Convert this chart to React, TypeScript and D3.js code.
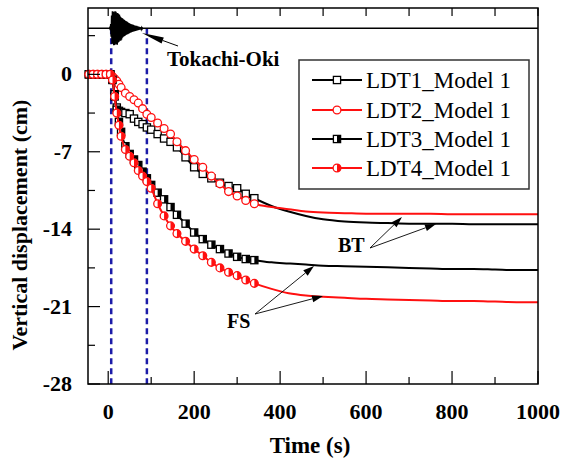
import React from "react";
import * as d3 from "d3";

// ---- data ----
const times = [-45, -35, -25, -15, -5, 5, 10, 15, 20, 25, 30, 40, 50, 60, 70, 80, 90, 100, 115, 130, 145, 160, 180, 200, 220, 240, 260, 280, 300, 320, 340, 380, 420, 460, 500, 550, 600, 650, 700, 750, 800, 850, 900, 950, 1000];
const ldt1 = [0, 0, 0, 0, 0, 0, -0.5, -2.0, -3.0, -3.3, -3.4, -3.5, -3.6, -4.0, -4.3, -4.5, -4.8, -5.0, -5.4, -5.8, -6.1, -6.6, -7.5, -8.4, -9.0, -9.4, -9.8, -10.1, -10.3, -10.8, -11.2, -11.9, -12.4, -12.8, -13.1, -13.3, -13.4, -13.45, -13.5, -13.5, -13.5, -13.55, -13.55, -13.55, -13.55];
const ldt2 = [0, 0, 0, 0, 0, 0, -0.2, -0.4, -0.6, -0.9, -1.2, -1.7, -2.0, -2.3, -2.6, -3.1, -3.6, -3.9, -4.4, -4.9, -5.4, -6.1, -6.9, -7.7, -8.4, -9.2, -9.9, -10.6, -11.0, -11.4, -11.7, -12.0, -12.2, -12.4, -12.5, -12.55, -12.6, -12.6, -12.6, -12.6, -12.65, -12.65, -12.65, -12.65, -12.65];
const ldt3 = [0, 0, 0, 0, 0, 0, -0.5, -1.8, -3.2, -4.3, -5.2, -6.5, -7.2, -7.7, -8.2, -8.8, -9.4, -10.0, -10.7, -11.3, -12.0, -12.7, -13.5, -14.3, -14.9, -15.4, -15.8, -16.2, -16.5, -16.7, -16.8, -17.0, -17.1, -17.2, -17.3, -17.35, -17.4, -17.45, -17.5, -17.55, -17.6, -17.6, -17.65, -17.7, -17.7];
const ldt4 = [0, 0, 0, 0, 0, 0, -0.5, -2.0, -3.5, -4.6, -5.6, -6.8, -7.4, -8.0, -8.7, -9.2, -9.7, -10.3, -11.7, -12.8, -13.7, -14.4, -15.1, -15.8, -16.4, -17.0, -17.5, -17.9, -18.2, -18.6, -18.9, -19.4, -19.8, -20.0, -20.1, -20.2, -20.3, -20.35, -20.4, -20.45, -20.5, -20.5, -20.55, -20.6, -20.6];
const seriesNames = ["LDT1_Model 1", "LDT2_Model 1", "LDT3_Model 1", "LDT4_Model 1"];
// Tokachi-Oki acceleration record (schematic, 1 s steps from t = 4)
const accel = [30, -60, 150, -300, 450, -550, 600, -520, 580, -600,
  560, -590, 600, -540, 580, -560, 520, -580, 540, -500,
  500, -470, 480, -430, 420, -440, 380, -400, 360, -330,
  340, -300, 310, -280, 290, -260, 260, -240, 250, -220,
  230, -210, 200, -190, 190, -170, 170, -160, 150, -150,
  140, -130, 130, -120, 120, -110, 110, -100, 100, -90,
  90, -80, 85, -75, 70, -65, 60, -55, 50, -45,
  40, -35, 30, -25, 20, -15, 10, 0];
const accelStart = 4;
const xTicks = [0, 200, 400, 600, 800, 1000];
const xMinor = [100, 300, 500, 700, 900];
const yTicks = [0, -7, -14, -21, -28];
const yMinor = [3.5, -3.5, -10.5, -17.5, -24.5];
const eventTimes = [7, 90];
const markerLimit = 340;

const W = 567, H = 466;
const L = 88, R = 538, T = 8, B = 384;
const x = d3.scaleLinear().domain([-47, 1000]).range([L, R]);
const y = d3.scaleLinear().domain([-28, 6]).range([B, T]);
const baseY = 28.3;
const yAcc = d3.scaleLinear().domain([-600, 600]).range([baseY + 17, baseY - 17]);

const RED = "#ff1010";
const BLUE = "#1c1ca8";

function Txt(props: any) {
  const { children, bold, ...rest } = props;
  return (
    <text {...rest} fontFamily="Liberation Serif" fontWeight={bold ? "bold" : "normal"} style={{ fontFamily: "Liberation Serif" }}>
      {children}
    </text>
  );
}

function Marker({ kind, cx, cy }: { kind: number; cx: number; cy: number }) {
  const s = 3.6;
  if (kind === 0) {
    return <rect x={cx - s} y={cy - s} width={2 * s} height={2 * s} fill="white" stroke="black" strokeWidth={1.3} />;
  }
  if (kind === 1) {
    return <circle cx={cx} cy={cy} r={s + 0.3} fill="white" stroke={RED} strokeWidth={1.3} />;
  }
  if (kind === 2) {
    return (
      <g>
        <rect x={cx - s} y={cy - s} width={2 * s} height={2 * s} fill="white" stroke="black" strokeWidth={1.3} />
        <rect x={cx} y={cy - s} width={s} height={2 * s} fill="black" />
      </g>
    );
  }
  const r = s + 0.3;
  return (
    <g>
      <circle cx={cx} cy={cy} r={r} fill="white" stroke={RED} strokeWidth={1.3} />
      <path d={`M${cx},${cy - r} A${r},${r} 0 0 1 ${cx},${cy + r} Z`} fill={RED} />
    </g>
  );
}

function Arrow({ x1, y1, x2, y2, len = 11, hw = 3.5, sw = 0.9 }: any) {
  const dx = x1 - x2, dy = y1 - y2;
  const d = Math.hypot(dx, dy);
  const ux = dx / d, uy = dy / d;
  const bx = x2 + ux * len, by = y2 + uy * len;
  const px = -uy * hw, py = ux * hw;
  return (
    <g>
      <line x1={x1} y1={y1} x2={bx} y2={by} stroke="black" strokeWidth={sw} />
      <polygon points={`${x2},${y2} ${bx + px},${by + py} ${bx - px},${by - py}`} fill="black" />
    </g>
  );
}

export default function App() {
  const all = [ldt1, ldt2, ldt3, ldt4];
  const colors = ["black", RED, "black", RED];
  const line = d3
    .line<[number, number]>()
    .x((d) => x(d[0]))
    .y((d) => y(d[1]))
    .curve(d3.curveMonotoneX);

  const accPts: [number, number][] = [[x(-47), baseY], [x(accelStart - 1), baseY]];
  accel.forEach((a, i) => accPts.push([x(accelStart + i), yAcc(a)]));
  accPts.push([x(1000), baseY]);
  const accPath = d3.line<[number, number]>().x((d) => d[0]).y((d) => d[1])(accPts) as string;

  const legendY = [80, 110, 139, 168];

  return (
    <svg width={W} height={H} style={{ position: "absolute", left: 0, top: 0, background: "white" }}>
      <defs>
        <style>{`text { font-family: "Liberation Serif", serif; }`}</style>
      </defs>
      {/* event window */}
      {eventTimes.map((t) => (
        <line key={t} x1={x(t)} x2={x(t)} y1={baseY} y2={B} stroke={BLUE} strokeWidth={2.5} strokeDasharray="6 4" />
      ))}
      {/* series */}
      {all.map((vals, k) => {
        const pts = times.map((t, i) => [t, vals[i]] as [number, number]);
        return (
          <g key={k}>
            <path d={line(pts) as string} fill="none" stroke={colors[k]} strokeWidth={2} />
            {pts
              .filter((p) => p[0] <= markerLimit)
              .map((p, i) => (
                <Marker key={i} kind={k} cx={x(p[0])} cy={y(p[1])} />
              ))}
          </g>
        );
      })}
      {/* acceleration record */}
      <path d={accPath} fill="none" stroke="black" strokeWidth={1.6} />
      {/* frame */}
      <rect x={L} y={T} width={R - L} height={B - T} fill="none" stroke="black" strokeWidth={1.5} />
      {/* ticks */}
      {xTicks.map((t) => (
        <g key={"xt" + t}>
          <line x1={x(t)} x2={x(t)} y1={B} y2={B - 13} stroke="black" strokeWidth={1.2} />
          <Txt x={x(t)} y={419} textAnchor="middle" fontSize={22} bold>{String(t)}</Txt>
        </g>
      ))}
      {xMinor.map((t) => (
        <line key={"xm" + t} x1={x(t)} x2={x(t)} y1={B} y2={B - 7} stroke="black" strokeWidth={1.2} />
      ))}
      {[...xTicks, ...xMinor].map((t) => (
        <line key={"top" + t} x1={x(t)} x2={x(t)} y1={T} y2={T + 8} stroke="black" strokeWidth={1.2} />
      ))}
      {yTicks.map((v) => (
        <g key={"yt" + v}>
          <line x1={L} x2={L + 12} y1={y(v)} y2={y(v)} stroke="black" strokeWidth={1.2} />
          <Txt x={72} y={y(v) + 7} textAnchor="end" fontSize={22} bold>{v === 0 ? "0" : "-" + Math.abs(v)}</Txt>
        </g>
      ))}
      {yMinor.map((v) => (
        <line key={"ym" + v} x1={L} x2={L + 7} y1={y(v)} y2={y(v)} stroke="black" strokeWidth={1.2} />
      ))}
      {/* axis titles */}
      <Txt x={310} y={453} textAnchor="middle" fontSize={23} bold>Time (s)</Txt>
      <Txt transform="translate(27,225) rotate(-90)" textAnchor="middle" fontSize={22} bold>Vertical displacement (cm)</Txt>
      {/* annotations */}
      <Txt x={167} y={66} fontSize={21} bold>Tokachi-Oki</Txt>
      <Arrow x1={178} y1={46} x2={142} y2={33} len={22} hw={3.2} sw={1} />
      <Txt x={338} y={252} fontSize={20} bold>BT</Txt>
      <Arrow x1={370} y1={248} x2={402} y2={217} />
      <Arrow x1={370} y1={248} x2={436} y2={224} />
      <Txt x={227} y={328} fontSize={20} bold>FS</Txt>
      <Arrow x1={255} y1={314} x2={314} y2={266} />
      <Arrow x1={255} y1={314} x2={323} y2={296} />
      {/* legend */}
      <rect x={299} y={60} width={230} height={129} fill="white" stroke="#333" strokeWidth={1.5} />
      {seriesNames.map((n, k) => (
        <g key={n}>
          <line x1={312} x2={362} y1={legendY[k]} y2={legendY[k]} stroke={colors[k]} strokeWidth={2} />
          <Marker kind={k} cx={337} cy={legendY[k]} />
          <Txt x={366} y={legendY[k] + 8} fontSize={23}>{n}</Txt>
        </g>
      ))}
    </svg>
  );
}
